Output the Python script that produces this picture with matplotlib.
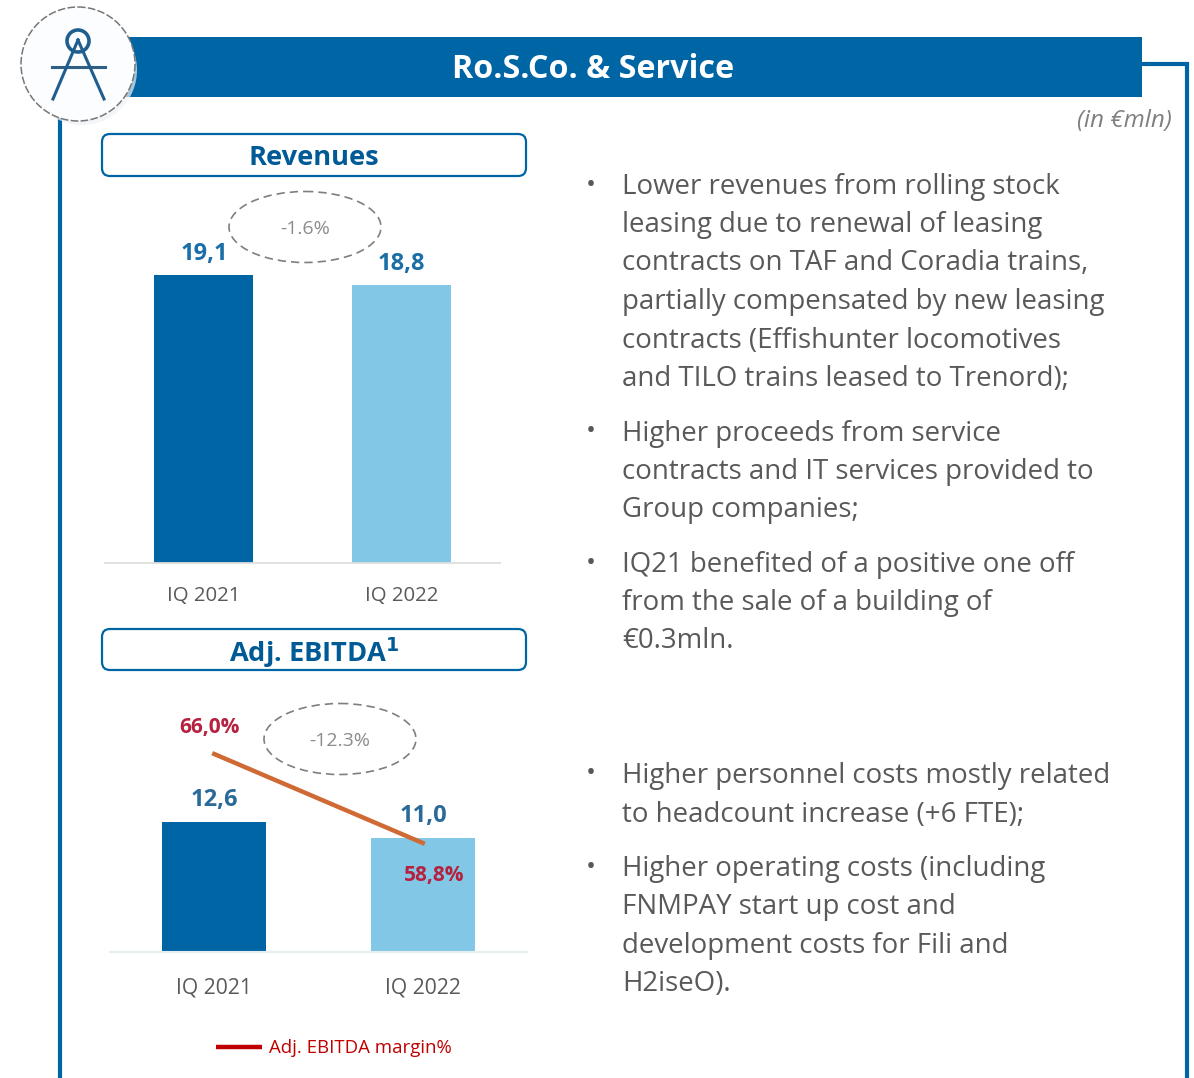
#!/usr/bin/env python3
"""Ro.S.Co. & Service slide: revenues and EBITDA bars with comments."""

import matplotlib
matplotlib.use("Agg")
import matplotlib.pyplot as plt
from matplotlib.patches import Circle, Ellipse, FancyBboxPatch, Rectangle

plt.rcParams["font.family"] = ["Open Sans", "DejaVu Sans"]

BLUE = "#0065a4"
LIGHT = "#83c7e6"
GREY = "#595959"
RED = "#c00000"

periods = ["IQ 2021", "IQ 2022"]
revenues = [19.1, 18.8]
revenue_labels = ["19,1", "18,8"]
ebitda = [12.6, 11.0]
ebitda_labels = ["12,6", "11,0"]
margin = [66.0, 58.8]
margin_labels = ["66,0%", "58,8%"]

bullets = [
    (184, "Lower revenues from rolling stock"),
    (222, "leasing due to renewal of leasing"),
    (260, "contracts on TAF and Coradia trains,"),
    (299, "partially compensated by new leasing"),
    (338, "contracts (Effishunter locomotives"),
    (376, "and TILO trains leased to Trenord);"),
    (431, "Higher proceeds from service"),
    (469, "contracts and IT services provided to"),
    (507, "Group companies;"),
    (562, "IQ21 benefited of a positive one off"),
    (600, "from the sale of a building of"),
    (638, "€0.3mln."),
    (773, "Higher personnel costs mostly related"),
    (812, "to headcount increase (+6 FTE);"),
    (866, "Higher operating costs (including"),
    (904, "FNMPAY start up cost and"),
    (943, "development costs for Fili and"),
    (981, "H2iseO)."),
]
bullet_rows = [184, 431, 562, 773, 866]

W, H = 1194, 1078
fig = plt.figure(figsize=(W / 100, H / 100), dpi=100)

# pixel overlay for the slide furniture
bg = fig.add_axes([0, 0, 1, 1], zorder=0)
bg.set_xlim(0, W)
bg.set_ylim(H, 0)
bg.axis("off")
top = fig.add_axes([0, 0, 1, 1], zorder=5)
top.set_xlim(0, W)
top.set_ylim(H, 0)
top.axis("off")
top.patch.set_alpha(0)


def chart_axes(left, right, ytop, ybottom):
    ax = fig.add_axes([left / W, 1 - ybottom / H, (right - left) / W, (ybottom - ytop) / H], zorder=2)
    ax.patch.set_alpha(0)
    ax.set_xlim(-0.5, 1.5)
    ax.set_xticks([])
    ax.set_yticks([])
    for name in ["top", "left", "right"]:
        ax.spines[name].set_visible(False)
    return ax


bg.plot([60, 60], [100, H], color=BLUE, lw=3)
bg.plot([1140, 1187, 1187], [63.5, 63.5, H], color=BLUE, lw=3, solid_joinstyle="miter")
bg.add_patch(Rectangle((125, 37), 1017, 60, color=BLUE, lw=0))
bg.text(593, 70, "Ro.S.Co. & Service", color="white", fontsize=23.2, fontweight="bold", ha="center", va="center")
bg.text(1172, 121, "(in €mln)", color="#7f7f7f", fontsize=17.5, style="italic", ha="right", va="center")

# compass badge
bg.add_patch(Circle((82, 70), 55, fc="#eef2f6", ec="none", alpha=0.7, zorder=3))
bg.add_patch(Circle((78, 64), 57, fc="#fbfdfe", ec="#777777", lw=1.1, ls=(0, (5, 1.5)), zorder=4))
bg.add_patch(Circle((78, 41), 11, fc="none", ec="#1f5f8f", lw=2.6, zorder=5))
bg.plot([52, 105], [67, 67], color="#2f5f85", lw=2.2, zorder=5)
bg.plot([78, 53], [40, 99], color="#1f5f8f", lw=2.2, zorder=5)
bg.plot([78, 104], [40, 99], color="#1f5f8f", lw=2.2, zorder=5)

for y0, y1, label in [(134, 176, "Revenues"), (629, 670, "Adj. EBITDA$\\mathbf{^1}$")]:
    bg.add_patch(FancyBboxPatch((102, y0), 424, y1 - y0, boxstyle="round,pad=0,rounding_size=8",
                                fc="white", ec=BLUE, lw=1.6))
    bg.text(314, (y0 + y1) / 2 + 3, label, color="#005a96", fontsize=19.6, fontweight="bold",
            ha="center", va="center", math_fontfamily="dejavusans")

# revenues chart, the baseline of the picture is not at zero
ax1 = chart_axes(105, 500, 225, 563)
ax1.set_ylim(10.5, 10.5 + 8.6 * 338 / 288)
ax1.bar([0, 1], revenues, bottom=0, width=0.5, color=[BLUE, LIGHT])
ax1.spines["bottom"].set_color("#dedede")
ax1.spines["bottom"].set_linewidth(1.3)

# ebitda chart
ax2 = chart_axes(110, 527, 700, 952)
ax2.set_ylim(0, 252 / 10.32)
ax2.bar([0, 1], ebitda, width=0.5, color=[BLUE, LIGHT])
ax2.spines["bottom"].set_color("#e6eef2")
ax2.spines["bottom"].set_linewidth(1.5)

ax3 = ax2.twinx()
ax3.patch.set_alpha(0)
ax3.set_ylim(49.98, 70.37)
ax3.set_yticks([])
for spine in ax3.spines.values():
    spine.set_visible(False)
ax3.plot([0, 1], margin, color="#cf6a35", lw=3.2)

for x, text, val in zip([204, 401.5], revenue_labels, [254, 264]):
    top.text(x, val, text, color="#1b6ea8", fontsize=17, fontweight="bold", ha="center", va="center")
for x, text, val in zip([214, 423], ebitda_labels, [800, 816]):
    top.text(x, val, text, color="#2a6a98", fontsize=17, fontweight="bold", ha="center", va="center")
for x, y, text in zip([209, 434], [728, 876], margin_labels):
    top.text(x, y, text, color="#b5213f", fontsize=15, fontweight="bold", ha="center", va="center")

for x, text in zip([204, 401.5], periods):
    top.text(x, 596, text, color=GREY, fontsize=14.7, ha="center", va="center")
for x, text in zip([214, 423], periods):
    top.text(x, 988, text, color=GREY, fontsize=15.2, ha="center", va="center")

for xc, yc, text in [(305, 227, "-1.6%"), (340, 739, "-12.3%")]:
    top.add_patch(Ellipse((xc, yc), 152, 71, fc="none", ec="#7f7f7f", lw=1.2, ls=(0, (5, 3))))
    top.text(xc, yc + 2, text, color="#8c8c8c", fontsize=14, ha="center", va="center")

top.plot([216, 262], [1047, 1047], color=RED, lw=3.2, solid_capstyle="butt")
top.text(269, 1048, "Adj. EBITDA margin%", color=RED, fontsize=13.4, ha="left", va="center")

for y, line in bullets:
    bg.text(622, y + 3, line, color=GREY, fontsize=19.9, ha="left", va="center")
for y in bullet_rows:
    bg.text(591, y + 1, "•", color=GREY, fontsize=19, ha="center", va="center")

fig.savefig("out.png", dpi=100)
